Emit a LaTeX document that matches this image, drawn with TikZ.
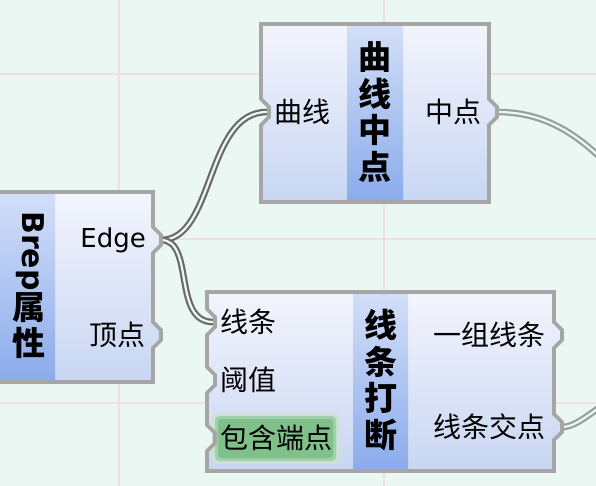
\documentclass[tikz,border=0pt]{standalone}
\usepackage{fontspec}
\setmainfont{Noto Sans CJK SC}
\newfontfamily\latin{DejaVu Sans}
\definecolor{bg}{HTML}{EBF7F2}
\definecolor{gridc}{HTML}{EFDFE0}
\definecolor{bord}{HTML}{A6A6A6}
\definecolor{bodytop}{HTML}{F3F5FD}
\definecolor{bodybot}{HTML}{C8D6F2}
\definecolor{striptop}{HTML}{D3DFF8}
\definecolor{stripbot}{HTML}{8AABEB}
\definecolor{wiredark}{HTML}{6A6A6A}
\definecolor{wirelight}{HTML}{98A09D}
\definecolor{hl}{HTML}{80C08A}
\tikzset{
  bodyfill/.style={top color=bodytop, bottom color=bodybot},
  stripfill/.style={top color=striptop, bottom color=stripbot},
  border/.style={draw=bord, line width=3.8pt, line join=miter},
  gridline/.style={draw=gridc, line width=2.2pt},
  title/.style={font=\bfseries\fontsize{33}{36.5}\selectfont, align=center, inner sep=0pt},
  port/.style={font=\fontsize{28}{30}\selectfont, inner sep=0pt},
  wire/.style={draw=wiredark, line width=2.2pt, double=bg, double distance=2.2pt},
  wirepale/.style={draw=wirelight, line width=2.2pt, double=bg, double distance=2.2pt},
}
\begin{document}
\begin{tikzpicture}[x=1pt,y=-1pt]
\useasboundingbox (0,0) rectangle (596,486);
\clip (0,0) rectangle (596,486);
\fill[bg] (0,0) rectangle (596,486);
% grid
\draw[gridline] (119,0) -- (119,486);
\draw[gridline] (384,0) -- (384,486);
\draw[gridline] (0,74) -- (596,74);
\draw[gridline] (0,239) -- (596,239);
\draw[gridline] (0,403) -- (596,403);

% port coordinates
\coordinate (A-edge) at (161,240);
\coordinate (A-vtx) at (161,335);
\coordinate (B-in) at (267,112);
\coordinate (B-out) at (497,112);
\coordinate (C-in1) at (213,322);
\coordinate (C-out1) at (562,335);
\coordinate (C-out2) at (562,427);
\coordinate (wB) at (650,215);
\coordinate (wC) at (650,378);

% wires
\draw[wire] (A-edge) .. controls (215,240) and (205,112) .. (B-in);
\draw[wire] (A-edge) .. controls (195,240) and (172,322) .. (C-in1);
\draw[wirepale] (B-out) .. controls (560,112) and (600,150) .. (wB);
\draw[wirepale] (C-out2) .. controls (582,427) and (600,400) .. (wC);

% Box A : Brep属性
\def\boxA{(-20,192) -- (153,192) -- (153,227) -- (161,235) -- (161,245) -- (153,253)
  -- (153,322) -- (161,330) -- (161,340) -- (153,348) -- (153,382) -- (-20,382) -- cycle}
\shade[bodyfill] \boxA;
\shade[stripfill] (-20,192) rectangle (55,382);
\draw[border] \boxA;
\node[inner sep=0pt, rotate=-90, font=\latin\bfseries\fontsize{30}{30}\selectfont] (A-t1) at (30,251) {Brep};
\node[title] (A-t2) at (29,308) {属};
\node[title] (A-t3) at (29,343) {性};
\node[port, anchor=east, font=\latin\fontsize{26}{28}\selectfont] (A-l1) at (146,240) {Edge};
\node[port, anchor=east] (A-l2) at (146,335) {顶点};

% Box B : 曲线中点
\def\boxB{(261,24) -- (489,24) -- (489,99) -- (497,107) -- (497,117) -- (489,125) -- (489,202)
  -- (261,202) -- (261,125) -- (269,117) -- (269,107) -- (261,99) -- cycle}
\shade[bodyfill] \boxB;
\shade[stripfill] (347,24) rectangle (403,202);
\draw[border] \boxB;
\node[title] (B-t) at (375,112) {曲\\线\\中\\点};
\node[port, anchor=west] (B-l1) at (274,112) {曲线};
\node[port, anchor=east] (B-l2) at (482,112) {中点};

% Box C : 线条打断
\def\boxC{(207,292) -- (554,292) -- (554,322) -- (562,330) -- (562,340) -- (554,348)
  -- (554,414) -- (562,422) -- (562,432) -- (554,440) -- (554,471)
  -- (207,471) -- (207,451) -- (215,443) -- (215,433) -- (207,425)
  -- (207,393) -- (215,385) -- (215,375) -- (207,367)
  -- (207,335) -- (215,327) -- (215,317) -- (207,309) -- cycle}
\shade[bodyfill] \boxC;
\shade[stripfill] (353,292) rectangle (408,471);
\fill[hl!35!bodytop, rounded corners=6pt] (212,413) rectangle (339,464);
\fill[hl!70!bodytop, rounded corners=4pt] (215,416) rectangle (336,461);
\fill[hl, rounded corners=3pt] (218,419) rectangle (333,458);
\draw[border] \boxC;
\node[title] (C-t) at (381,380) {线\\条\\打\\断};
\node[port, anchor=west] (C-l1) at (220,322) {线条};
\node[port, anchor=west] (C-l2) at (220,380) {阈值};
\node[port, anchor=west] (C-l3) at (220,438) {包含端点};
\node[port, anchor=east] (C-l4) at (546,335) {一组线条};
\node[port, anchor=east] (C-l5) at (546,427) {线条交点};
\end{tikzpicture}
\end{document}
